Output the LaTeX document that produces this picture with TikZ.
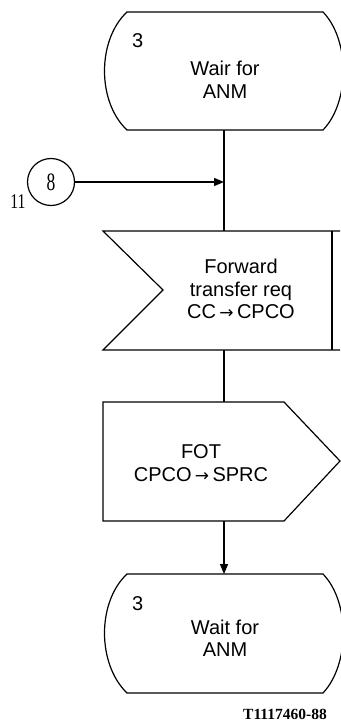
\documentclass[tikz,border=0pt]{standalone}
\usepackage{fontspec}
\setmainfont{Liberation Sans}
\newfontfamily\serifnum{Liberation Serif}
\newfontfamily\symfont{DejaVu Sans}
\newcommand{\smallarrow}{\,{\symfont\fontsize{17}{17}\selectfont →}\,}
\usetikzlibrary{arrows.meta}
\begin{document}
\begin{tikzpicture}[x=1pt,y=-1pt,
  shapeline/.style={line width=1.2pt, line join=miter},
  conn/.style={line width=1.2pt},
  arr/.style={conn,-{Triangle[length=10pt,width=8pt]}},
  lbl/.style={font=\fontsize{20}{22.5}\selectfont, align=center, inner sep=0pt},
  num/.style={font=\fontsize{20}{22}\selectfont, inner sep=0pt, anchor=base west}]
\useasboundingbox (0,0) rectangle (340,727);
% top state
\draw[shapeline] (127,12) -- (323,12) .. controls (350,40) and (350,102) .. (323,130)
  -- (127,130) .. controls (97,102) and (97,40) .. (127,12) -- cycle;
\coordinate (s1b) at (224,130);
\node[num] (s1n) at (132,48) {3};
\node[lbl] (s1t) at (225,80) {Wair for\\ANM};
% connector circle
\node[draw, circle, line width=1.2pt, minimum size=47pt, inner sep=0pt,
  font=\serifnum\fontsize{25}{25}\selectfont] (c8) at (51,182) {\scalebox{0.7}[1]{8}};
\node[font=\serifnum\fontsize{21}{21}\selectfont, inner sep=0pt, anchor=base] (c11) at (18,208) {\scalebox{0.75}[1]{11}};
\coordinate (j) at (224,182);
% input signal
\draw[shapeline] (340,231) -- (103,231) -- (163,290) -- (103,350) -- (340,350);
\draw[shapeline] (332,231) -- (332,350);
\coordinate (in1t) at (224,231);
\coordinate (in1b) at (224,350);
\node[lbl] (in1) at (241,289) {Forward\\transfer req\\CC\smallarrow CPCO};
% output signal
\draw[shapeline] (103,402) -- (284,402) -- (340,461) -- (284,521) -- (103,521) -- cycle;
\coordinate (out1t) at (224,402);
\coordinate (out1b) at (224,521);
\node[lbl] (out1) at (201,463) {FOT\\CPCO\smallarrow SPRC};
% bottom state
\draw[shapeline] (127,574) -- (323,574) .. controls (350,602) and (350,664) .. (323,693)
  -- (127,693) .. controls (97,664) and (97,602) .. (127,574) -- cycle;
\coordinate (s2t) at (224,574);
\node[num] (s2n) at (132,610) {3};
\node[lbl] (s2t2) at (225,638) {Wait for\\ANM};
% connectors
\draw[conn] (s1b) -- (in1t);
\draw[arr] (c8) -- (j);
\draw[conn] (in1b) -- (out1t);
\draw[arr] (out1b) -- (s2t);
% figure code
\node[font=\serifnum\bfseries\fontsize{15.5}{15.5}\selectfont, inner sep=0pt, anchor=base] (code) at (285,719) {T1117460-88};
\end{tikzpicture}
\end{document}
